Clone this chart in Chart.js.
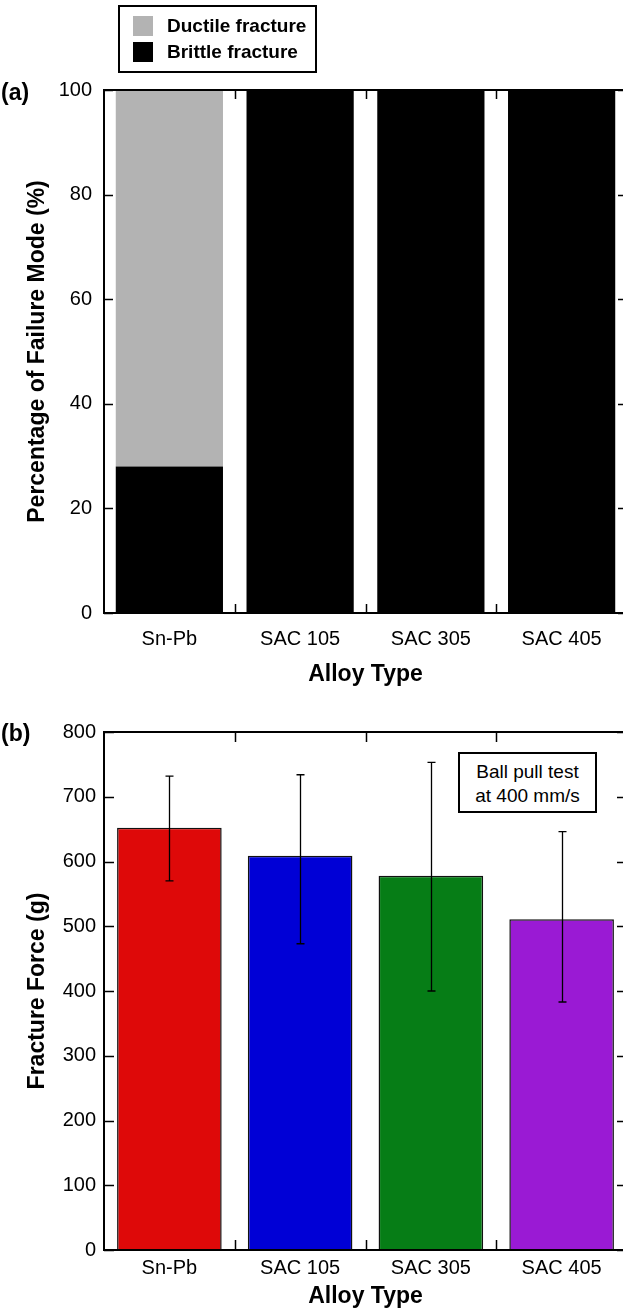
<!DOCTYPE html>
<html>
<head>
<meta charset="utf-8">
<script src="https://cdn.jsdelivr.net/npm/chart.js@4.4.0/dist/chart.umd.min.js"></script>
<style>
html, body { margin: 0; padding: 0; background: #fff; width: 623px; height: 1311px; overflow: hidden; }
body { position: relative; font-family: "Liberation Sans", Arial, Helvetica, sans-serif; color: #000; }
canvas { position: absolute; left: 0; }
#chartA { top: 0; }
#chartB { top: 700px; }
.panel { position: absolute; left: 1px; font-weight: bold; font-size: 23px; line-height: 26px; }
#legendA { position: absolute; left: 118px; top: 5px; width: 199px; height: 68px; border: 2px solid #000; box-sizing: border-box; }
#legendA .row { position: absolute; left: 13px; height: 20px; font-weight: bold; font-size: 19px; line-height: 20px; white-space: nowrap; }
#legendA .sw { display: inline-block; width: 20px; height: 20px; vertical-align: top; margin-right: 14px; }
#noteB { position: absolute; left: 458px; top: 752px; width: 139px; height: 61px; border: 2px solid #000; box-sizing: border-box; background: #fff; font-size: 19px; line-height: 24px; text-align: center; padding-top: 6px; }
</style>
</head>
<body>
<canvas id="chartA" width="640" height="700"></canvas>
<canvas id="chartB" width="640" height="611"></canvas>
<div class="panel" style="top:79px">(a)</div>
<div class="panel" style="top:720px">(b)</div>
<div id="legendA"></div>
<div id="noteB">Ball pull test<br>at 400 mm/s</div>
<script>
// panel (a): failure mode split, percent
const alloys = ['Sn-Pb', 'SAC 105', 'SAC 305', 'SAC 405'];
const ductilePct = [72, 0, 0, 0];
const brittlePct = [28, 100, 100, 100];
const modeColors = { ductile: '#b3b3b3', brittle: '#000000' };

// panel (b): ball pull fracture force, grams
const fractureForce = [652, 609, 578, 511];
const forceLow = [570, 473, 400, 383];
const forceHigh = [732, 734, 753, 646];
const forceColors = ['#de0909', '#0000d6', '#067d16', '#9a1ad4'];

Chart.defaults.font.family = '"Liberation Sans", Arial, Helvetica, sans-serif';
Chart.defaults.color = '#000';

// box + inward ticks on all four sides, positions taken from the scales
const frameTicks = {
    id: 'frameTicks',
    afterDatasetsDraw: function (chart, args, opts) {
        const ctx = chart.ctx, a = chart.chartArea, x = chart.scales.x, y = chart.scales.y;
        const len = opts.len || 10;
        ctx.save();
        ctx.strokeStyle = '#000';
        ctx.lineWidth = 1.5;
        ctx.beginPath();
        y.ticks.forEach(function (t) {
            const py = Math.round(y.getPixelForValue(t.value)) + 0.5;
            ctx.moveTo(a.left, py); ctx.lineTo(a.left + len, py);
            ctx.moveTo(a.right, py); ctx.lineTo(a.right - len, py);
        });
        for (let i = 0; i < x.ticks.length - 1; i++) {
            const px = Math.round((x.getPixelForValue(i) + x.getPixelForValue(i + 1)) / 2) + 0.5;
            ctx.moveTo(px, a.top); ctx.lineTo(px, a.top + len);
            ctx.moveTo(px, a.bottom); ctx.lineTo(px, a.bottom - len);
        }
        ctx.stroke();
        ctx.lineWidth = 2;
        ctx.strokeRect(a.left, a.top, a.right - a.left, a.bottom - a.top);
        ctx.restore();
    }
};

const errorBars = {
    id: 'errorBars',
    afterDatasetsDraw: function (chart) {
        const ctx = chart.ctx, x = chart.scales.x, y = chart.scales.y;
        ctx.save();
        ctx.strokeStyle = '#000';
        ctx.lineWidth = 1.3;
        forceLow.forEach(function (lo, i) {
            const px = Math.round(x.getPixelForValue(i)) + 0.5;
            const yl = y.getPixelForValue(lo), yh = y.getPixelForValue(forceHigh[i]);
            ctx.beginPath();
            ctx.moveTo(px, yl); ctx.lineTo(px, yh);
            ctx.moveTo(px - 4, yh); ctx.lineTo(px + 4, yh);
            ctx.moveTo(px - 4, yl); ctx.lineTo(px + 4, yl);
            ctx.stroke();
        });
        ctx.restore();
    }
};

function axisX(height, tickPad, titlePadBottom, stacked) {
    return {
        stacked: stacked,
        grid: { display: false, drawTicks: false },
        border: { display: false },
        ticks: { font: { size: 20 }, color: '#000', padding: tickPad, maxRotation: 0 },
        title: { display: true, text: 'Alloy Type', color: '#000', font: { size: 23, weight: 'bold' }, padding: { top: 0, bottom: titlePadBottom } },
        afterFit: function (s) { s.height = height; }
    };
}

function axisY(title, max, step, tickPad, stacked) {
    return {
        stacked: stacked,
        min: 0,
        max: max,
        grid: { display: false, drawTicks: false },
        border: { display: false },
        ticks: { stepSize: step, font: { size: 20 }, color: '#000', padding: tickPad },
        title: { display: true, text: title, color: '#000', font: { size: 23, weight: 'bold' }, padding: { top: 24, bottom: 0 } },
        afterFit: function (s) { s.width = 104; }
    };
}

const chartA = new Chart(document.getElementById('chartA'), {
    type: 'bar',
    data: {
        labels: alloys,
        datasets: [
            { label: 'Brittle fracture', data: brittlePct, backgroundColor: modeColors.brittle, borderWidth: 0, barPercentage: 0.82, categoryPercentage: 1.0 },
            { label: 'Ductile fracture', data: ductilePct, backgroundColor: modeColors.ductile, borderWidth: 0, barPercentage: 0.82, categoryPercentage: 1.0 }
        ]
    },
    options: {
        responsive: false,
        animation: false,
        layout: { padding: { top: 90, right: 13, bottom: 0, left: 0 } },
        scales: {
            x: axisX(87, 14, 12, true),
            y: axisY('Percentage of Failure Mode (%)', 100, 20, 12, true)
        },
        plugins: { legend: { display: false }, tooltip: { enabled: false }, frameTicks: { len: 9 } }
    },
    plugins: [frameTicks]
});

// html legend from the datasets, ductile listed first
var legendEl = document.getElementById('legendA');
chartA.data.datasets.slice().reverse().forEach(function (ds, i) {
    var row = document.createElement('div');
    row.className = 'row';
    row.style.top = (9 + i * 26) + 'px';
    row.innerHTML = '<span class="sw" style="background:' + ds.backgroundColor + '"></span>' + ds.label;
    legendEl.appendChild(row);
});

new Chart(document.getElementById('chartB'), {
    type: 'bar',
    data: {
        labels: alloys,
        datasets: [{
            label: 'Fracture Force',
            data: fractureForce,
            backgroundColor: forceColors,
            borderColor: '#111',
            borderWidth: 1.5,
            barPercentage: 0.8,
            categoryPercentage: 1.0
        }]
    },
    options: {
        responsive: false,
        animation: false,
        layout: { padding: { top: 32, right: 13, bottom: 0, left: 0 } },
        scales: {
            x: axisX(61, 6, 1, false),
            y: axisY('Fracture Force (g)', 800, 100, 8, false)
        },
        plugins: { legend: { display: false }, tooltip: { enabled: false }, frameTicks: { len: 10 } }
    },
    plugins: [frameTicks, errorBars]
});
</script>
</body>
</html>
